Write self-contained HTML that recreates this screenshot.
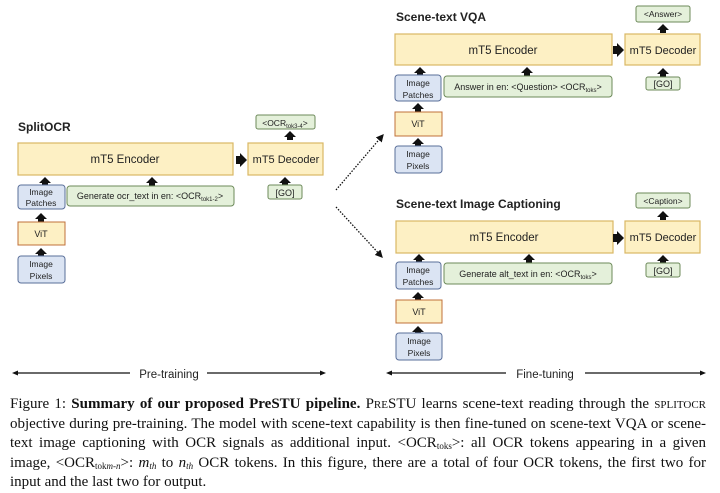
<!DOCTYPE html>
<html><head><meta charset="utf-8"><style>
body{margin:0;width:720px;height:493px;background:#fff;overflow:hidden;position:relative}
svg{position:absolute;left:0;top:0}
.cap{position:absolute;left:10px;top:395px;width:696px;font-family:"Liberation Serif",serif;font-size:15px;line-height:19.6px;color:#111}
.cap div{text-align:justify;text-align-last:justify;white-space:nowrap;height:19.6px}
.cap div.l{text-align-last:left}
.sc{font-variant:small-caps}
sub{font-size:9px;vertical-align:-2px;line-height:0}
</style></head><body>
<svg width="720" height="493" font-family="Liberation Sans, DejaVu Sans, sans-serif">
<defs>
<marker id="ah" markerWidth="6" markerHeight="6" refX="5" refY="3" orient="auto"><path d="M0,0 L6,3 L0,6 z" fill="#111"/></marker>
<g id="up"><path d="M-6,4 L0,-2 L6,4 z M-3,4 h6 v3 h-6 z" fill="#111"/></g>
<g id="rt"><path d="M-4,-4 h4 v-3 l7,7 l-7,7 v-3 h-4 z" fill="#111"/></g>
</defs>
<g font-size="10" text-anchor="middle" fill="#222">
<text x="18" y="131" font-size="12" font-weight="bold" text-anchor="start">SplitOCR</text>
<rect x="18" y="143" width="215" height="32" fill="#fdf0c4" stroke="#d9b765" stroke-width="1.2"/>
<text x="125" y="163" font-size="11.5">mT5 Encoder</text>
<use href="#rt" x="240" y="160"/>
<rect x="248" y="143" width="75" height="32" fill="#fdf0c4" stroke="#d9b765" stroke-width="1.2"/>
<text x="286" y="163" font-size="11">mT5 Decoder</text>
<rect x="256" y="115" width="59" height="14" rx="2" fill="#e4f0da" stroke="#6d8a5a"/>
<text x="285" y="126" font-size="8.5">&lt;OCR<tspan font-size="6" dy="2">tok3-4</tspan><tspan dy="-2">&gt;</tspan></text>
<use href="#up" x="290" y="133"/>
<use href="#up" x="285" y="179"/>
<rect x="268" y="185" width="34" height="14" rx="2" fill="#e4f0da" stroke="#6d8a5a"/>
<text x="285" y="196" font-size="9">[GO]</text>
<use href="#up" x="45" y="179"/>
<use href="#up" x="152" y="179"/>
<rect x="18" y="185" width="47" height="24" rx="3" fill="#dbe4f3" stroke="#5a6f9a"/>
<text x="41" y="195" font-size="8.5">Image</text><text x="41" y="206" font-size="8.5">Patches</text>
<rect x="67" y="186" width="167" height="20" rx="3" fill="#e4f0da" stroke="#6d8a5a"/>
<text x="150" y="199" font-size="9">Generate ocr_text in en: &lt;OCR<tspan font-size="6" dy="2">tok1-2</tspan><tspan dy="-2">&gt;</tspan></text>
<use href="#up" x="41" y="215"/>
<rect x="18" y="222" width="47" height="23" fill="#fdf0c4" stroke="#c0703a"/>
<text x="41" y="237" font-size="9">ViT</text>
<use href="#up" x="41" y="250"/>
<rect x="18" y="256" width="47" height="27" rx="3" fill="#dbe4f3" stroke="#5a6f9a"/>
<text x="41" y="267" font-size="8.5">Image</text><text x="41" y="279" font-size="8.5">Pixels</text>

<text x="396" y="21" font-size="12" font-weight="bold" text-anchor="start">Scene-text VQA</text>
<rect x="395" y="34" width="217" height="31" fill="#fdf0c4" stroke="#d9b765" stroke-width="1.2"/>
<text x="503" y="54" font-size="11.5">mT5 Encoder</text>
<use href="#rt" x="617" y="50"/>
<rect x="625" y="34" width="75" height="31" fill="#fdf0c4" stroke="#d9b765" stroke-width="1.2"/>
<text x="663" y="54" font-size="11">mT5 Decoder</text>
<rect x="636" y="6" width="54" height="16" rx="2" fill="#e4f0da" stroke="#6d8a5a"/>
<text x="663" y="17" font-size="8.5">&lt;Answer&gt;</text>
<use href="#up" x="663" y="26"/>
<use href="#up" x="663" y="70"/>
<rect x="646" y="77" width="34" height="13" rx="2" fill="#e4f0da" stroke="#6d8a5a"/>
<text x="663" y="87" font-size="9">[GO]</text>
<use href="#up" x="420" y="69"/>
<use href="#up" x="527" y="69"/>
<rect x="395" y="75" width="46" height="26" rx="3" fill="#dbe4f3" stroke="#5a6f9a"/>
<text x="418" y="86" font-size="8.5">Image</text><text x="418" y="98" font-size="8.5">Patches</text>
<rect x="444" y="76" width="168" height="21" rx="3" fill="#e4f0da" stroke="#6d8a5a"/>
<text x="528" y="90" font-size="9">Answer in en: &lt;Question&gt; &lt;OCR<tspan font-size="6" dy="2">toks</tspan><tspan dy="-2">&gt;</tspan></text>
<use href="#up" x="418" y="105"/>
<rect x="395" y="112" width="47" height="24" fill="#fdf0c4" stroke="#c0703a"/>
<text x="418" y="127" font-size="9">ViT</text>
<use href="#up" x="418" y="140"/>
<rect x="395" y="146" width="47" height="27" rx="3" fill="#dbe4f3" stroke="#5a6f9a"/>
<text x="418" y="157" font-size="8.5">Image</text><text x="418" y="169" font-size="8.5">Pixels</text>

<text x="396" y="208" font-size="12" font-weight="bold" text-anchor="start">Scene-text Image Captioning</text>
<rect x="396" y="221" width="217" height="32" fill="#fdf0c4" stroke="#d9b765" stroke-width="1.2"/>
<text x="504" y="241" font-size="11.5">mT5 Encoder</text>
<use href="#rt" x="617" y="238"/>
<rect x="625" y="221" width="75" height="32" fill="#fdf0c4" stroke="#d9b765" stroke-width="1.2"/>
<text x="663" y="241" font-size="11">mT5 Decoder</text>
<rect x="636" y="193" width="54" height="15" rx="2" fill="#e4f0da" stroke="#6d8a5a"/>
<text x="663" y="204" font-size="8.5">&lt;Caption&gt;</text>
<use href="#up" x="663" y="213"/>
<use href="#up" x="663" y="257"/>
<rect x="646" y="263" width="34" height="14" rx="2" fill="#e4f0da" stroke="#6d8a5a"/>
<text x="663" y="274" font-size="9">[GO]</text>
<use href="#up" x="419" y="256"/>
<use href="#up" x="529" y="256"/>
<rect x="396" y="262" width="45" height="27" rx="3" fill="#dbe4f3" stroke="#5a6f9a"/>
<text x="418" y="273" font-size="8.5">Image</text><text x="418" y="285" font-size="8.5">Patches</text>
<rect x="444" y="263" width="168" height="21" rx="3" fill="#e4f0da" stroke="#6d8a5a"/>
<text x="528" y="277" font-size="9">Generate alt_text in en: &lt;OCR<tspan font-size="6" dy="2">toks</tspan><tspan dy="-2">&gt;</tspan></text>
<use href="#up" x="418" y="294"/>
<rect x="396" y="300" width="46" height="23" fill="#fdf0c4" stroke="#c0703a"/>
<text x="419" y="315" font-size="9">ViT</text>
<use href="#up" x="418" y="328"/>
<rect x="396" y="333" width="46" height="27" rx="3" fill="#dbe4f3" stroke="#5a6f9a"/>
<text x="419" y="344" font-size="8.5">Image</text><text x="419" y="356" font-size="8.5">Pixels</text>

<line x1="336" y1="190" x2="383" y2="135" stroke="#111" stroke-width="1.3" stroke-dasharray="1.5,1.5" marker-end="url(#ah)"/>
<line x1="336" y1="207" x2="382" y2="257" stroke="#111" stroke-width="1.3" stroke-dasharray="1.5,1.5" marker-end="url(#ah)"/>

<path d="M12,373 l6,-2.5 v5 z M326,373 l-6,-2.5 v5 z" fill="#111"/>
<line x1="15" y1="373" x2="130" y2="373" stroke="#111" stroke-width="1.3"/>
<line x1="207" y1="373" x2="322" y2="373" stroke="#111" stroke-width="1.3"/>
<text x="169" y="378" font-size="11.5">Pre-training</text>
<path d="M386,373 l6,-2.5 v5 z M706,373 l-6,-2.5 v5 z" fill="#111"/>
<line x1="389" y1="373" x2="506" y2="373" stroke="#111" stroke-width="1.3"/>
<line x1="585" y1="373" x2="703" y2="373" stroke="#111" stroke-width="1.3"/>
<text x="545" y="378" font-size="11.5">Fine-tuning</text>
</g>
</svg>
<div class="cap">
<div>Figure 1: <b>Summary of our proposed PreSTU pipeline.</b> <span class="sc">PreSTU</span> learns scene-text reading through the <span class="sc">splitocr</span></div>
<div>objective during pre-training. The model with scene-text capability is then fine-tuned on scene-text VQA or scene-</div>
<div>text image captioning with OCR signals as additional input. &lt;OCR<sub>toks</sub>&gt;: all OCR tokens appearing in a given</div>
<div>image, &lt;OCR<sub>tok<i>m-n</i></sub>&gt;: <i>m<sub>th</sub></i> to <i>n<sub>th</sub></i> OCR tokens. In this figure, there are a total of four OCR tokens, the first two for</div>
<div class="l">input and the last two for output.</div>
</div>
</body></html>
